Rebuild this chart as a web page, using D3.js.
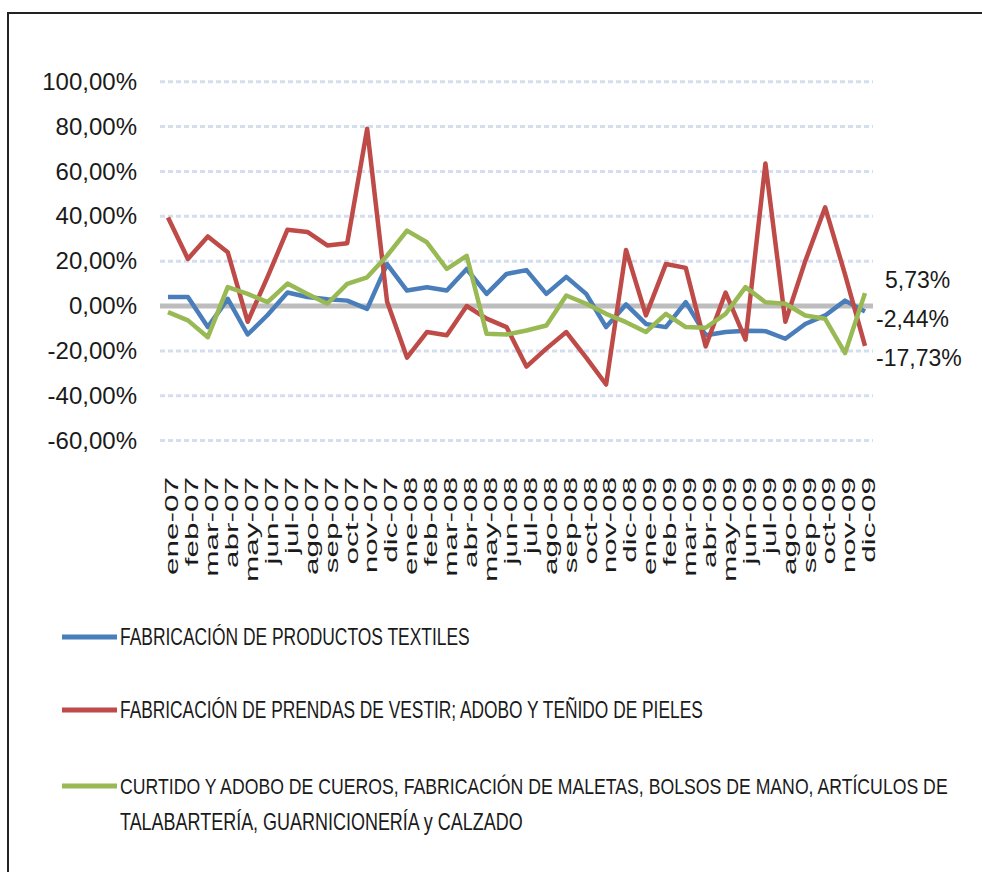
<!DOCTYPE html>
<html>
<head>
<meta charset="utf-8">
<script src="https://cdn.jsdelivr.net/npm/d3@7"></script>
<style>
	body { margin: 0; background: #fff; }
	text { font-family: "Liberation Sans", Arial, sans-serif; fill: #1a1a1a; }
</style>
</head>
<body>
<svg id="chart" width="982" height="872"></svg>
<script>
var categorias = [ "ene-07", "feb-07", "mar-07", "abr-07", "may-07", "jun-07", "jul-07", "ago-07", "sep-07", "oct-07", "nov-07", "dic-07",
		"ene-08", "feb-08", "mar-08", "abr-08", "may-08", "jun-08", "jul-08", "ago-08", "sep-08", "oct-08", "nov-08", "dic-08",
		"ene-09", "feb-09", "mar-09", "abr-09", "may-09", "jun-09", "jul-09", "ago-09", "sep-09", "oct-09", "nov-09", "dic-09" ];

// variaciones en %
var textiles = [ 4, 4, -9.4, 3.2, -12.7, -4, 6, 4, 3, 2.4, -1.3, 18.7, 6.9, 8.4, 6.9, 16.5, 5.4, 14.3,
		16, 5.4, 13, 5.4, -9.4, 0.7, -8, -9.4, 1.7, -13, -11.6, -11, -11.2, -14.6, -8, -4.2, 2.4, -2.44 ];
var prendas = [ 39.5, 21, 31, 24, -7, 13, 34, 33, 27, 28, 79, 2, -23, -11.6, -13, 0, -5.6, -9.4,
		-27, -19, -11.6, -23, -35, 25, -4.2, 18.7, 17, -18, 6, -15, 63.5, -7, 20, 44, 14, -17.73 ];
var cueros = [ -2.7, -6.4, -13.9, 8.4, 5.4, 1.7, 10, 5.4, 1, 9.9, 12.8, 22.4, 33.6, 28.4, 16.5, 22.4, -12.4, -12.7,
		-10.9, -8.7, 4.7, 1, -3.5, -7.2, -11.6, -3.5, -9.4, -9.7, -3.5, 8.4, 1.7, 1, -4.2, -5.7, -21, 5.73 ];

var ticksY = [ -60, -40, -20, 0, 20, 40, 60, 80, 100 ];

var nombres = [ [ "FABRICACIÓN DE PRODUCTOS TEXTILES" ],
		[ "FABRICACIÓN DE PRENDAS DE VESTIR; ADOBO Y TEÑIDO DE PIELES" ],
		[ "CURTIDO Y ADOBO DE CUEROS, FABRICACIÓN DE MALETAS, BOLSOS DE MANO, ARTÍCULOS DE",
				"TALABARTERÍA, GUARNICIONERÍA y CALZADO" ] ];
var colores = [ "#4a7ebb", "#be4b48", "#98b954" ];

var series = [ textiles, prendas, cueros ];

var svg = d3.select("#chart");
var left = 160, right = 873;

var x = d3.scalePoint().domain(categorias).range([ 168, 865 ]);
var y = d3.scaleLinear().domain([ -60, 100 ]).range([ 440.6, 81.7 ]);

var es = d3.formatLocale({ decimal: ",", thousands: ".", grouping: [ 3 ], currency: [ "", "€" ], minus: "-" });
var fmt = es.format(".2f");

// marco
svg.append("rect").attr("x", 8).attr("y", 13).attr("width", 990).attr("height", 880)//
.attr("fill", "none").attr("stroke", "#222").attr("stroke-width", 2);

// rejilla
svg.append("g").selectAll("line").data(ticksY.filter(function(d) {
	return d !== 0;
})).enter().append("line")//
.attr("x1", left).attr("x2", right)//
.attr("y1", function(d) {
	return y(d);
}).attr("y2", function(d) {
	return y(d);
})//
.attr("stroke", "#d5deef").attr("stroke-width", 3).attr("stroke-dasharray", "5 3");

svg.append("line").attr("x1", left).attr("x2", right).attr("y1", y(0)).attr("y2", y(0))//
.attr("stroke", "#bdbdbd").attr("stroke-width", 5);

// eje y
var ejeY = svg.append("g").attr("transform", "translate(" + left + ",0)")//
.call(d3.axisLeft(y).tickValues(ticksY).tickSize(0).tickPadding(23).tickFormat(function(d) {
	return fmt(d) + "%";
}));
ejeY.select(".domain").remove();
ejeY.selectAll("text").attr("font-size", 24).attr("font-family", null).attr("fill", "#1a1a1a");

// etiquetas x
svg.append("g").selectAll("text").data(categorias).enter().append("text")//
.attr("transform", function(d) {
	return "translate(" + (x(d) + 4) + ",477) rotate(-90) scale(1.75,1)";
})//
.attr("text-anchor", "end").attr("dominant-baseline", "central").attr("font-size", 18)//
.text(function(d) {
	return d;
});

// lineas
var linea = d3.line().x(function(d, i) {
	return x(categorias[i]);
}).y(function(d) {
	return y(d);
});
svg.append("g").selectAll("path").data(series).enter().append("path")//
.attr("d", linea).attr("fill", "none")//
.attr("stroke", function(d, i) {
	return colores[i];
}).attr("stroke-width", 4.5).attr("stroke-linejoin", "round");

// etiquetas finales
var ultimo = categorias[categorias.length - 1];
var desplaza = [ [ 11, 8 ], [ 11, 12 ], [ 20, -13 ] ];
svg.append("g").selectAll("text").data(series).enter().append("text")//
.attr("x", function(d, i) {
	return x(ultimo) + desplaza[i][0];
}).attr("y", function(d, i) {
	return y(d[d.length - 1]) + desplaza[i][1];
})//
.attr("dominant-baseline", "central").attr("font-size", 23)//
.text(function(d) {
	return fmt(d[d.length - 1]) + "%";
});

// leyenda
var leyY = [ 637, 710, 786 ];
var anchos = [ [ 350 ], [ 583 ], [ 828, 403 ] ];
var ley = svg.append("g").selectAll("g").data(nombres).enter().append("g")//
.attr("transform", function(d, i) {
	return "translate(0," + leyY[i] + ")";
});
ley.append("line").attr("x1", 62).attr("x2", 117)//
.attr("stroke", function(d, i) {
	return colores[i];
}).attr("stroke-width", 5);
ley.each(function(d, i) {
	d3.select(this).selectAll("text").data(d).enter().append("text")//
	.attr("dominant-baseline", "central").attr("font-size", 23)//
	.text(function(t) {
		return t;
	})//
	.attr("transform", function(t, j) {
		var sx = anchos[i][j] / this.getComputedTextLength();
		return "translate(120," + (j * 36) + ") scale(" + sx + ",1)";
	});
});
</script>
</body>
</html>
